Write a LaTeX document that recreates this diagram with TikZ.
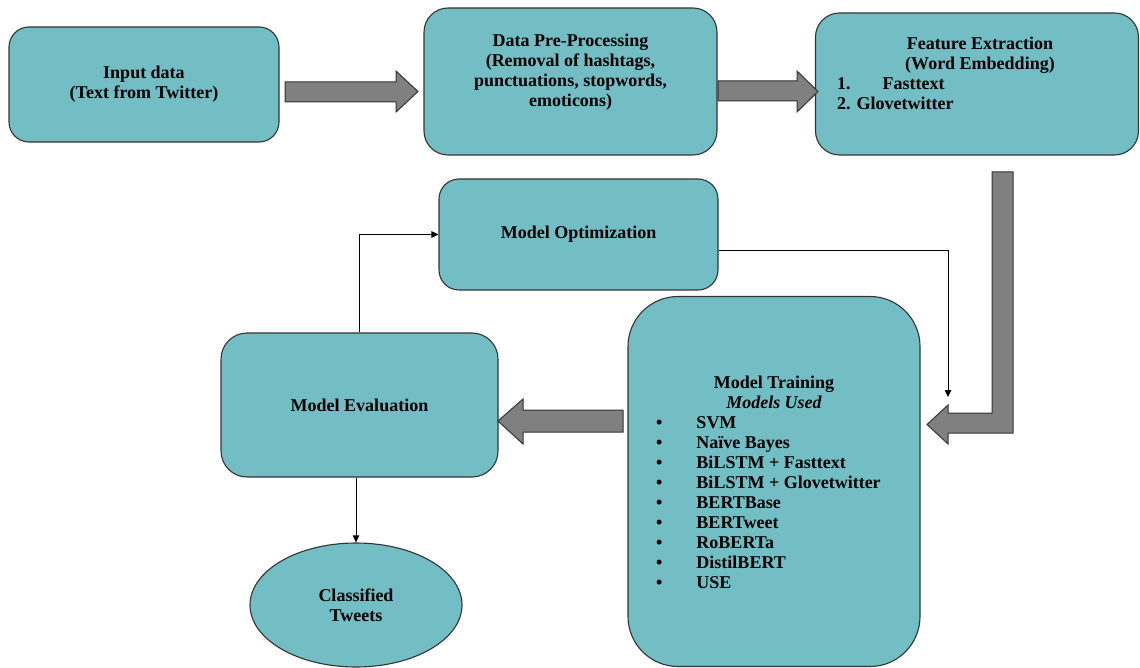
\documentclass[tikz,border=0pt]{standalone}
\usepackage{fontspec}
\setmainfont{Liberation Serif}
\usetikzlibrary{arrows.meta,shapes.geometric}
\definecolor{tealfill}{HTML}{72BEC4}
\definecolor{edgecol}{HTML}{333333}
\definecolor{arrowgray}{HTML}{808080}
\begin{document}
\begin{tikzpicture}[x=1pt,y=-1pt,
  box/.style={draw=edgecol,line width=1.1pt,fill=tealfill,rounded corners=#1,inner sep=0pt},
  box/.default=20pt,
  txt/.style={font=\fontsize{18}{20}\selectfont\bfseries,align=center,inner sep=0pt},
  blockarrow/.style={draw=edgecol,line width=1pt,fill=arrowgray,line join=miter},
  thinarrow/.style={draw=black,line width=0.8pt,-{Triangle[length=7pt,width=6.5pt]}},
  thinline/.style={draw=black,line width=0.8pt}
]
\useasboundingbox (0,0) rectangle (1140,668);

% boxes
\node[box, minimum width=270pt, minimum height=115pt, txt] (input) at (144,84.5) {Input data\\(Text from Twitter)};
\node[box=24pt, minimum width=293pt, minimum height=147pt] (prep) at (570.5,81.5) {};
\node[txt] (preptxt) at (570.5,72) {Data Pre-Processing\\(Removal of hashtags,\\punctuations, stopwords,\\emoticons)};
\node[box=24pt, minimum width=323pt, minimum height=142pt] (feat) at (977,84) {};
\node[txt] (feattxt) at (980,55) {Feature Extraction\\(Word Embedding)};
\node[txt, anchor=west] (featlist) at (837,96) {\begin{tabular}{@{}l@{}}1.\hspace{32pt}Fasttext\\[0pt]2. Glovetwitter\end{tabular}};
\node[box, minimum width=279pt, minimum height=111pt, txt] (opt) at (578.5,234.5) {Model Optimization};
\node[box=26pt, minimum width=277pt, minimum height=144pt, txt] (eval) at (359.5,405) {Model Evaluation};
\node[box=50pt, minimum width=292pt, minimum height=370pt] (train) at (774,481.5) {};
\node[txt] (traintxt) at (774,392) {Model Training\\\itshape Models Used};
\node[txt, anchor=north west] (trainlist) at (656,414) {\begin{tabular}{@{}l@{\hspace{34pt}}l@{}}
\textbullet & SVM\\
\textbullet & Naïve Bayes\\
\textbullet & BiLSTM + Fasttext\\
\textbullet & BiLSTM + Glovetwitter\\
\textbullet & BERTBase\\
\textbullet & BERTweet\\
\textbullet & RoBERTa\\
\textbullet & DistilBERT\\
\textbullet & USE
\end{tabular}};
\node[ellipse, draw=edgecol, line width=1.1pt, fill=tealfill, minimum width=212pt, minimum height=124pt, inner sep=0pt, txt] (ct) at (356,605) {Classified\\Tweets};

% block arrows
\path[blockarrow] (285,82) -- (396,82) -- (396,71) -- (418,91.5) -- (396,112) -- (396,102) -- (285,102) -- cycle;
\path[blockarrow] (718,81) -- (797,81) -- (797,71) -- (818,91.5) -- (797,112) -- (797,101) -- (718,101) -- cycle;
\path[blockarrow] (992,172) -- (1013,172) -- (1013,433) -- (948,433) -- (948,444) -- (927,424.5) -- (948,405) -- (948,413) -- (992,413) -- cycle;
\path[blockarrow] (623,410) -- (523,410) -- (523,399) -- (498,421) -- (523,444) -- (523,432) -- (623,432) -- cycle;

% thin connectors
\coordinate (trainin) at (948,397);
\draw[thinarrow] (eval.north) |- (opt.west);
\draw[thinarrow] ([yshift=-15.5pt]opt.east) -| (trainin);
\draw[thinarrow] (eval.south -| ct.north) -- (ct.north);
\end{tikzpicture}
\end{document}
